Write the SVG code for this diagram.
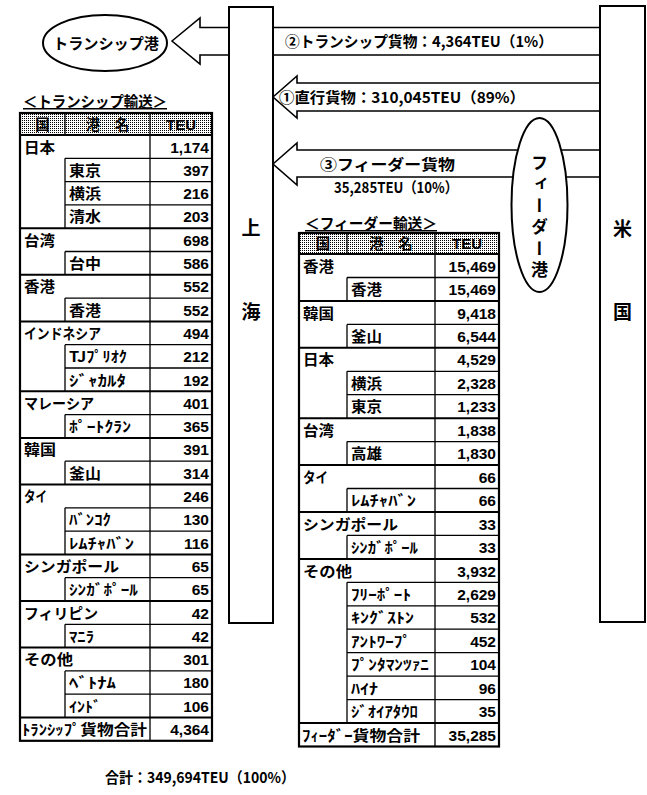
<svg xmlns="http://www.w3.org/2000/svg" width="647" height="795" viewBox="0 0 647 795">
<defs>
<pattern id="dots" width="2" height="2" patternUnits="userSpaceOnUse"><rect width="2" height="2" fill="#fff"/><rect width="1" height="1" fill="#000"/></pattern>
<style>
.t{font-family:"Noto Sans CJK JP","Noto Sans CJK SC",sans-serif;font-weight:700;font-size:14.5px;fill:#000}
.n{font-family:"Liberation Sans Narrow","Liberation Sans","Noto Sans CJK JP",sans-serif;font-weight:700;font-size:15.5px;fill:#000;text-anchor:end}
.big{font-family:"Noto Sans CJK JP",sans-serif;font-weight:700;font-size:19px;fill:#000;text-anchor:middle}
.box{fill:#fff;stroke:#000;stroke-width:2}
.arr{fill:#fff;stroke:#000;stroke-width:1.6;stroke-linejoin:miter}
.thick{stroke:#000;stroke-width:2;fill:none}
.thin{stroke:#000;stroke-width:1.3;fill:none}
.ul{text-decoration:underline}
</style>
</defs>
<rect width="647" height="795" fill="#fff"/>

<g id="connectors">
<path class="arr" d="M172,41 L200,18 L200,27.5 L600,27.5 L600,55 L200,55 L200,64 Z"/>
<path class="arr" d="M273,97 L297,76 L297,83 L600,83 L600,111 L297,111 L297,118 Z"/>
<path class="arr" d="M273,164 L297,143 L297,150 L600,150 L600,177 L297,177 L297,185 Z"/>
</g>

<g id="shanghai">
<rect class="box" x="229" y="7" width="44" height="616"/>
<text class="big" x="251" y="235">上</text>
<text class="big" x="251" y="319">海</text>
</g>

<g id="usa">
<rect class="box" x="600" y="6" width="45" height="616"/>
<text class="big" x="622.5" y="236">米</text>
<text class="big" x="622.5" y="319">国</text>
</g>

<g id="connector-labels">
<text class="t" x="285" y="47" textLength="268" lengthAdjust="spacingAndGlyphs" style="font-size:15px">②トランシップ貨物：4,364TEU（1%）</text>
<text class="t" x="279" y="103" textLength="246" lengthAdjust="spacingAndGlyphs" style="font-size:15px">①直行貨物：310,045TEU（89%）</text>
<text class="t" x="320" y="170" textLength="135" lengthAdjust="spacingAndGlyphs" style="font-size:15px">③フィーダー貨物</text>
<text class="t" x="334" y="193" textLength="124" lengthAdjust="spacingAndGlyphs" style="font-size:15px">35,285TEU（10%）</text>
</g>

<g id="transship-port">
<ellipse class="box" cx="105" cy="43" rx="62" ry="28"/>
<text class="t" x="53" y="49" textLength="106" lengthAdjust="spacingAndGlyphs" style="font-size:15px">トランシップ港</text>
</g>

<g id="feeder-port">
<ellipse class="box" cx="539.5" cy="205" rx="28" ry="87"/>
<text class="t" x="539.5" y="154" style="writing-mode:vertical-rl;font-size:17px;letter-spacing:4.5px">フィーダー港</text>
</g>

<g id="transship-table">
<text class="t ul" x="23" y="107" textLength="144" lengthAdjust="spacingAndGlyphs" style="font-size:15px">＜トランシップ輸送＞</text>
<rect x="20" y="113" width="192" height="22" fill="url(#dots)"/>
<path class="thick" d="M20,135H212 M20,228.2H212 M20,274.8H212 M20,321.4H212 M20,391.3H212 M20,437.9H212 M20,484.5H212 M20,554.4H212 M20,601H212 M20,647.6H212 M20,717.5H212"/>
<path class="thin" d="M65,158.3H212 M65,181.6H212 M65,204.9H212 M65,251.5H212 M65,298.1H212 M65,344.7H212 M65,368H212 M65,414.6H212 M65,461.2H212 M65,507.8H212 M65,531.1H212 M65,577.7H212 M65,624.3H212 M65,670.9H212 M65,694.2H212"/>
<path class="thin" d="M150,113V740.8 M65,113V135 M65,158.3V228.2 M65,251.5V274.8 M65,298.1V321.4 M65,344.7V391.3 M65,414.6V437.9 M65,461.2V484.5 M65,507.8V554.4 M65,577.7V601 M65,624.3V647.6 M65,670.9V717.5"/>
<rect class="thick" x="20" y="113" width="192" height="627.8" style="stroke-width:2.2"/>
<text class="t" x="42.5" y="129.5" text-anchor="middle">国</text>
<text class="t" x="107.5" y="129.5" text-anchor="middle">港　名</text>
<text class="t" x="181" y="129.5" text-anchor="middle" style="font-family:'Liberation Sans',sans-serif;font-size:15px">TEU</text>

<text class="t" x="24" y="152.5" textLength="31" lengthAdjust="spacingAndGlyphs">日本</text><text class="n" x="209" y="152.5">1,174</text>
<text class="t" x="69" y="175.8" textLength="32" lengthAdjust="spacingAndGlyphs">東京</text><text class="n" x="209" y="175.8">397</text>
<text class="t" x="69" y="199.1" textLength="32" lengthAdjust="spacingAndGlyphs">横浜</text><text class="n" x="209" y="199.1">216</text>
<text class="t" x="69" y="222.4" textLength="32" lengthAdjust="spacingAndGlyphs">清水</text><text class="n" x="209" y="222.4">203</text>
<text class="t" x="24" y="245.7" textLength="31" lengthAdjust="spacingAndGlyphs">台湾</text><text class="n" x="209" y="245.7">698</text>
<text class="t" x="69" y="269" textLength="32" lengthAdjust="spacingAndGlyphs">台中</text><text class="n" x="209" y="269">586</text>
<text class="t" x="24" y="292.3" textLength="31" lengthAdjust="spacingAndGlyphs">香港</text><text class="n" x="209" y="292.3">552</text>
<text class="t" x="69" y="315.6" textLength="32" lengthAdjust="spacingAndGlyphs">香港</text><text class="n" x="209" y="315.6">552</text>
<text class="t" x="24" y="338.9" textLength="77" lengthAdjust="spacingAndGlyphs">インドネシア</text><text class="n" x="209" y="338.9">494</text>
<text class="t" x="69" y="362.2" textLength="58" lengthAdjust="spacingAndGlyphs">TJﾌﾟﾘｵｸ</text><text class="n" x="209" y="362.2">212</text>
<text class="t" x="69" y="385.5" textLength="57" lengthAdjust="spacingAndGlyphs">ｼﾞｬｶﾙﾀ</text><text class="n" x="209" y="385.5">192</text>
<text class="t" x="24" y="408.8" textLength="70" lengthAdjust="spacingAndGlyphs">マレーシア</text><text class="n" x="209" y="408.8">401</text>
<text class="t" x="69" y="432.1" textLength="62" lengthAdjust="spacingAndGlyphs">ﾎﾟｰﾄｸﾗﾝ</text><text class="n" x="209" y="432.1">365</text>
<text class="t" x="24" y="455.4" textLength="32" lengthAdjust="spacingAndGlyphs">韓国</text><text class="n" x="209" y="455.4">391</text>
<text class="t" x="69" y="478.7" textLength="32" lengthAdjust="spacingAndGlyphs">釜山</text><text class="n" x="209" y="478.7">314</text>
<text class="t" x="24" y="502" textLength="23" lengthAdjust="spacingAndGlyphs">タイ</text><text class="n" x="209" y="502">246</text>
<text class="t" x="69" y="525.3" textLength="42" lengthAdjust="spacingAndGlyphs">ﾊﾞﾝｺｸ</text><text class="n" x="209" y="525.3">130</text>
<text class="t" x="69" y="548.6" textLength="65" lengthAdjust="spacingAndGlyphs">ﾚﾑﾁｬﾊﾞﾝ</text><text class="n" x="209" y="548.6">116</text>
<text class="t" x="24" y="571.9" textLength="95" lengthAdjust="spacingAndGlyphs">シンガポール</text><text class="n" x="209" y="571.9">65</text>
<text class="t" x="69" y="595.2" textLength="69" lengthAdjust="spacingAndGlyphs">ｼﾝｶﾞﾎﾟｰﾙ</text><text class="n" x="209" y="595.2">65</text>
<text class="t" x="24" y="618.5" textLength="74" lengthAdjust="spacingAndGlyphs">フィリピン</text><text class="n" x="209" y="618.5">42</text>
<text class="t" x="69" y="641.8" textLength="25" lengthAdjust="spacingAndGlyphs">ﾏﾆﾗ</text><text class="n" x="209" y="641.8">42</text>
<text class="t" x="24" y="665.1" textLength="49" lengthAdjust="spacingAndGlyphs">その他</text><text class="n" x="209" y="665.1">301</text>
<text class="t" x="69" y="688.4" textLength="47" lengthAdjust="spacingAndGlyphs">ﾍﾞﾄﾅﾑ</text><text class="n" x="209" y="688.4">180</text>
<text class="t" x="69" y="711.7" textLength="32" lengthAdjust="spacingAndGlyphs">ｲﾝﾄﾞ</text><text class="n" x="209" y="711.7">106</text>
<text class="t" x="22" y="735" textLength="125" lengthAdjust="spacingAndGlyphs">ﾄﾗﾝｼｯﾌﾟ貨物合計</text><text class="n" x="209" y="735">4,364</text>
</g>

<g id="feeder-table">
<text class="t ul" x="305" y="229" textLength="132" lengthAdjust="spacingAndGlyphs" style="font-size:15px">＜フィーダー輸送＞</text>
<rect x="299" y="233" width="200" height="21" fill="url(#dots)"/>
<path class="thick" d="M299,254H499 M299,300.9H499 M299,347.8H499 M299,418.2H499 M299,465.1H499 M299,512H499 M299,558.9H499 M299,723H499"/>
<path class="thin" d="M347,277.5H499 M347,324.4H499 M347,371.3H499 M347,394.7H499 M347,441.6H499 M347,488.5H499 M347,535.4H499 M347,582.3H499 M347,605.8H499 M347,629.2H499 M347,652.7H499 M347,676.1H499 M347,699.6H499"/>
<path class="thin" d="M435,233V746.5 M347,233V254 M347,277.5V300.9 M347,324.4V347.8 M347,371.3V418.2 M347,441.6V465.1 M347,488.5V512 M347,535.4V558.9 M347,582.3V723"/>
<rect class="thick" x="299" y="233" width="200" height="513.5" style="stroke-width:2.2"/>
<text class="t" x="323" y="249" text-anchor="middle">国</text>
<text class="t" x="391" y="249" text-anchor="middle">港　名</text>
<text class="t" x="467" y="249" text-anchor="middle" style="font-family:'Liberation Sans',sans-serif;font-size:15px">TEU</text>

<text class="t" x="303" y="271.6" textLength="31" lengthAdjust="spacingAndGlyphs">香港</text><text class="n" x="496" y="271.6">15,469</text>
<text class="t" x="351" y="295" textLength="31" lengthAdjust="spacingAndGlyphs">香港</text><text class="n" x="496" y="295">15,469</text>
<text class="t" x="303" y="318.5" textLength="31" lengthAdjust="spacingAndGlyphs">韓国</text><text class="n" x="496" y="318.5">9,418</text>
<text class="t" x="351" y="342" textLength="31" lengthAdjust="spacingAndGlyphs">釜山</text><text class="n" x="496" y="342">6,544</text>
<text class="t" x="303" y="365.4" textLength="31" lengthAdjust="spacingAndGlyphs">日本</text><text class="n" x="496" y="365.4">4,529</text>
<text class="t" x="351" y="388.9" textLength="31" lengthAdjust="spacingAndGlyphs">横浜</text><text class="n" x="496" y="388.9">2,328</text>
<text class="t" x="351" y="412.3" textLength="31" lengthAdjust="spacingAndGlyphs">東京</text><text class="n" x="496" y="412.3">1,233</text>
<text class="t" x="303" y="435.8" textLength="31" lengthAdjust="spacingAndGlyphs">台湾</text><text class="n" x="496" y="435.8">1,838</text>
<text class="t" x="351" y="459.2" textLength="31" lengthAdjust="spacingAndGlyphs">高雄</text><text class="n" x="496" y="459.2">1,830</text>
<text class="t" x="303" y="482.7" textLength="25" lengthAdjust="spacingAndGlyphs">タイ</text><text class="n" x="496" y="482.7">66</text>
<text class="t" x="351" y="506.1" textLength="65" lengthAdjust="spacingAndGlyphs">ﾚﾑﾁｬﾊﾞﾝ</text><text class="n" x="496" y="506.1">66</text>
<text class="t" x="303" y="529.6" textLength="95" lengthAdjust="spacingAndGlyphs">シンガポール</text><text class="n" x="496" y="529.6">33</text>
<text class="t" x="351" y="553" textLength="67" lengthAdjust="spacingAndGlyphs">ｼﾝｶﾞﾎﾟｰﾙ</text><text class="n" x="496" y="553">33</text>
<text class="t" x="303" y="576.5" textLength="49" lengthAdjust="spacingAndGlyphs">その他</text><text class="n" x="496" y="576.5">3,932</text>
<text class="t" x="351" y="599.9" textLength="60" lengthAdjust="spacingAndGlyphs">ﾌﾘｰﾎﾟｰﾄ</text><text class="n" x="496" y="599.9">2,629</text>
<text class="t" x="351" y="623.4" textLength="63" lengthAdjust="spacingAndGlyphs">ｷﾝｸﾞｽﾄﾝ</text><text class="n" x="496" y="623.4">532</text>
<text class="t" x="351" y="646.8" textLength="60" lengthAdjust="spacingAndGlyphs">ｱﾝﾄﾜｰﾌﾟ</text><text class="n" x="496" y="646.8">452</text>
<text class="t" x="351" y="670.3" textLength="78" lengthAdjust="spacingAndGlyphs">ﾌﾟﾝﾀﾏﾝﾂｧﾆ</text><text class="n" x="496" y="670.3">104</text>
<text class="t" x="351" y="693.7" textLength="27" lengthAdjust="spacingAndGlyphs">ﾊｲﾅ</text><text class="n" x="496" y="693.7">96</text>
<text class="t" x="351" y="717.2" textLength="67" lengthAdjust="spacingAndGlyphs">ｼﾞｵｲｱﾀｳﾛ</text><text class="n" x="496" y="717.2">35</text>
<text class="t" x="302" y="740.6" textLength="118" lengthAdjust="spacingAndGlyphs">ﾌｨｰﾀﾞｰ貨物合計</text><text class="n" x="496" y="740.6">35,285</text>
</g>

<g id="total">
<text class="t" x="105" y="783" textLength="190" lengthAdjust="spacingAndGlyphs" style="font-size:15px">合計：349,694TEU（100%）</text>
</g>
</svg>
